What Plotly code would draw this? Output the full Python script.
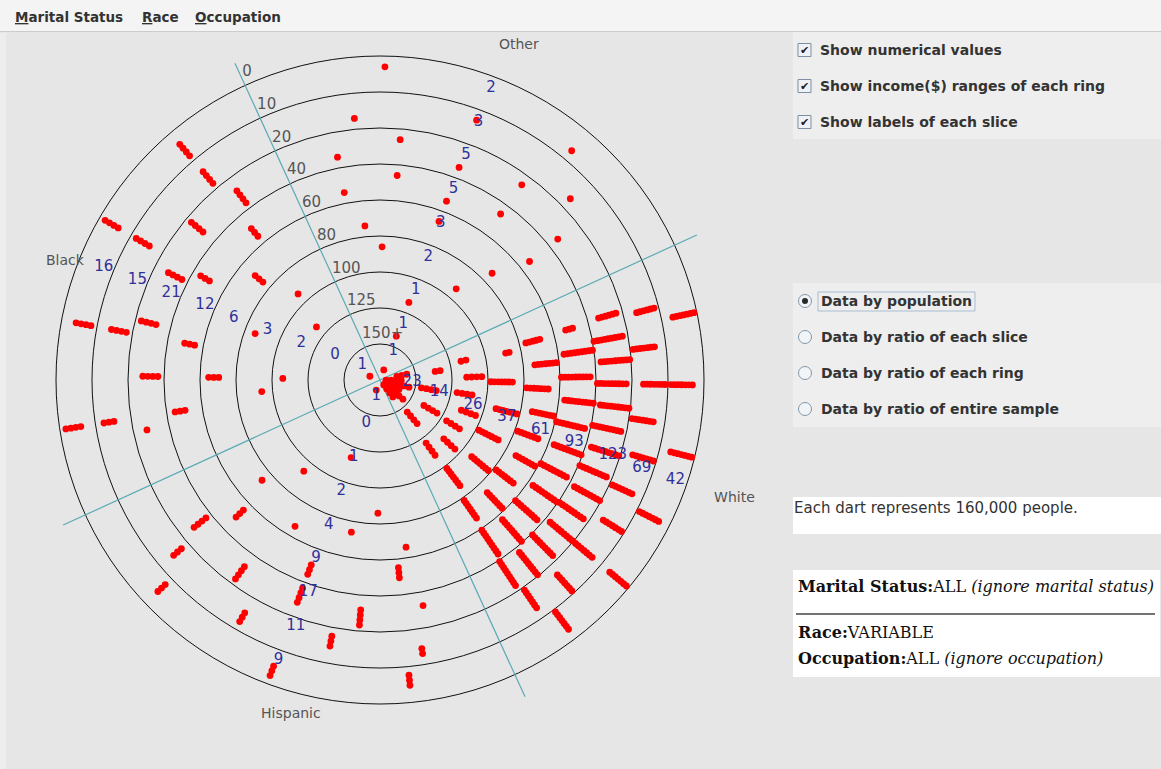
import math
import plotly.graph_objects as go

# ---------------- data ----------------
ring_labels = ["150+", "125", "100", "80", "60", "40", "20", "10", "0"]   # circle 1 (inner) -> circle 9 (outer)
slice_names = ["White", "Other", "Black", "Hispanic"]
white    = [23, 14, 26, 37, 61, 93, 123, 69, 42]   # centre (150+) -> outer ring (0-10)
other    = [1, 1, 1, 2, 3, 5, 5, 3, 2]
black    = [1, 0, 2, 3, 6, 12, 21, 15, 16]
hispanic = [1, 0, 1, 2, 4, 9, 17, 11, 9]
counts = [white, other, black, hispanic]
people_per_dart = 160000

# ---------------- geometry / style ----------------
W, H = 1161, 769
CX, CY = 380, 380
UNIT = 36.0
R_MAX = 10.5
ROT = 24.6          # angle of first slice boundary (deg, ccw from east)
N_RINGS = len(ring_labels)
RED = "#ff0000"
NUM_COL = "#30309a"
GREY = "#555555"
CYAN = "#5aaab4"
FONT = "DejaVu Sans"


def shift(r, th, dx, dy):
    """move a polar point by dx (right) / dy (down) pixels"""
    x = r * UNIT * math.cos(math.radians(th)) + dx
    y = r * UNIT * math.sin(math.radians(th)) - dy
    return math.hypot(x, y) / UNIT, math.degrees(math.atan2(y, x))


def cell_darts(n, k, a0, a1):
    rs, ts = [], []
    if n == 0:
        return rs, ts
    if n <= 5:
        s = 1
    elif n <= 12:
        s = 3
    elif n <= 30:
        s = 4
    elif n <= 70:
        s = 7
    else:
        s = 9
    ns = math.ceil(n / s)
    margin = 6.0
    left = n
    d = 0.10 if s >= 7 else 0.14
    for j in range(ns):
        m = min(s, left)
        left -= m
        th = a0 + margin + (j + 0.5) * (a1 - a0 - 2 * margin) / ns
        off = 0.2 if s == 1 else (0.12 if s < 9 else 0.06)
        rc = k + 0.5 + (off if j % 2 else -off)
        for i in range(m):
            rs.append(rc + (i - (m - 1) / 2) * d)
            ts.append(th)
    return rs, ts


fig = go.Figure()

# slice boundary lines
for b in range(2):
    th = ROT + 90 * b
    fig.add_trace(go.Scatterpolar(
        r=[9.68, 0, 9.68], theta=[th, th, th + 180], mode="lines",
        line=dict(color=CYAN, width=1.2), hoverinfo="skip", showlegend=False))

# darts
for si, name in enumerate(slice_names):
    a0 = ROT - 90 + 90 * si
    a1 = a0 + 90
    rr, tt = [], []
    for k, n in enumerate(counts[si]):
        r_, t_ = cell_darts(n, k, a0, a1)
        rr += r_
        tt += t_
    fig.add_trace(go.Scatterpolar(
        r=rr, theta=tt, mode="markers", name=name,
        marker=dict(color=RED, size=6.8, line=dict(width=0)),
        showlegend=False, hoverinfo="skip"))

# numerical values
for si, name in enumerate(slice_names):
    centre = ROT - 45 + 90 * si
    rr, tt, tx = [], [], []
    for k, n in enumerate(counts[si]):
        r0 = 0.67 if k == 0 else k + 1 - 19 / UNIT
        r_, t_ = shift(r0, centre, 0, -6)
        rr.append(r_)
        tt.append(t_)
        tx.append(str(n))
    fig.add_trace(go.Scatterpolar(
        r=rr, theta=tt, text=tx, mode="text", textposition="middle right",
        textfont=dict(color=NUM_COL, size=15, family=FONT),
        cliponaxis=False, showlegend=False, hoverinfo="skip"))

# income range labels along the boundary line
rr, tt = [], []
for j, lab in enumerate(ring_labels):
    r_, t_ = shift(j + 1, ROT + 90, -3, -13)
    rr.append(r_)
    tt.append(t_)
fig.add_trace(go.Scatterpolar(
    r=rr, theta=tt, text=ring_labels, mode="text", textposition="middle right",
    textfont=dict(color=GREY, size=15, family=FONT),
    cliponaxis=False, showlegend=False, hoverinfo="skip"))

# slice labels
fig.add_trace(go.Scatterpolar(
    r=[9.85] * 4, theta=[ROT - 45 + 90 * i + 0.8 for i in range(4)], text=slice_names,
    mode="text", textposition="middle right",
    textfont=dict(color=GREY, size=14, family=FONT),
    cliponaxis=False, showlegend=False, hoverinfo="skip"))

rad_px = R_MAX * UNIT
fig.update_layout(
    width=W, height=H,
    margin=dict(l=0, r=0, t=0, b=0),
    paper_bgcolor="#e6e6e6",
    showlegend=False,
    polar=dict(
        domain=dict(x=[(CX - rad_px) / W, (CX + rad_px) / W],
                    y=[1 - (CY + rad_px) / H, 1 - (CY - rad_px) / H]),
        bgcolor="rgba(0,0,0,0)",
        radialaxis=dict(range=[0, R_MAX], tickvals=list(range(1, N_RINGS + 1)),
                        showticklabels=False, ticks="", showline=False,
                        gridcolor="#111111", gridwidth=1.3, layer="below traces"),
        angularaxis=dict(direction="counterclockwise", rotation=0, showgrid=False,
                         showticklabels=False, ticks="", showline=False,
                         layer="below traces"),
    ),
)


# ---------------- UI panel (paper coords from px) ----------------
def px(x, y):
    return x / W, 1 - y / H


shapes = []
annots = []


def rect(x0, y0, x1, y1, fill, line=None, lw=0, layer="below"):
    a, b = px(x0, y0)
    c, d = px(x1, y1)
    shapes.append(dict(type="rect", xref="paper", yref="paper", x0=a, y0=d, x1=c, y1=b,
                       fillcolor=fill, line=dict(color=line or fill, width=lw), layer=layer))


def circ(xc, yc, r, fill, line, lw=1):
    a, b = px(xc - r, yc - r)
    c, d = px(xc + r, yc + r)
    shapes.append(dict(type="circle", xref="paper", yref="paper", x0=a, y0=d, x1=c, y1=b,
                       fillcolor=fill, line=dict(color=line, width=lw), layer="above"))


def hline(x0, x1, y, color, lw):
    a, b = px(x0, y)
    c, _ = px(x1, y)
    shapes.append(dict(type="line", xref="paper", yref="paper", x0=a, y0=b, x1=c, y1=b,
                       line=dict(color=color, width=lw)))


def text(x, y, s, size=14, color="#333333", family=FONT, xanchor="left"):
    a, b = px(x, y)
    annots.append(dict(x=a, y=b, xref="paper", yref="paper", text=s, showarrow=False,
                       xanchor=xanchor, yanchor="middle",
                       font=dict(size=size, color=color, family=family)))


# menu bar
rect(0, 0, W, 31, "#f4f4f4")
hline(0, W, 31.5, "#cccccc", 1)
rect(0, 33, 6, H, "#ededed")
text(13, 17, "<b><u>M</u>arital Status</b>", 13.5)
text(140, 17, "<b><u>R</u>ace</b>", 13.5)
text(193, 17, "<b><u>O</u>ccupation</b>", 13.5)

# check boxes
rect(793, 32, W, 139, "#eeeeee")
for y, lab in zip([50, 86, 122], ["Show numerical values",
                                 "Show income($) ranges of each ring",
                                 "Show labels of each slice"]):
    rect(798, y - 6.5, 811, y + 6.5, "#eef2f6", "#7d8fa3", 1, layer="above")
    text(804.5, y + 0.5, "✔", 11, "#222222", xanchor="center")
    text(818, y, "<b>" + lab + "</b>", 14)

# radio buttons
rect(793, 283, W, 427, "#eeeeee")
rect(818, 292, 975, 311, "rgba(0,0,0,0)", "#a9bdd2", 1, layer="above")
for i, (y, lab) in enumerate(zip([301, 337, 373, 409],
                                 ["Data by population", "Data by ratio of each slice",
                                  "Data by ratio of each ring",
                                  "Data by ratio of entire sample"])):
    circ(805, y, 6.5, "#f2f5f8", "#8196aa", 1)
    if i == 0:
        circ(805, y, 3, "#2a2a2a", "#2a2a2a", 0)
    text(819, y, "<b>" + lab + "</b>", 14)

# dart note
rect(793, 497, W, 534, "#ffffff")
text(792, 508, "Each dart represents {:,} people.".format(people_per_dart), 15, "#333333")

# info box
rect(793, 570, 1160, 677, "#ffffff")
SERIF = "DejaVu Serif"
text(796, 586, "<b>Marital Status:</b>ALL <i>(ignore marital status)</i>", 16, "#111111", SERIF)
hline(796, 1155, 614, "#444444", 1.5)
text(796, 632, "<b>Race:</b>VARIABLE", 16, "#111111", SERIF)
text(796, 658, "<b>Occupation:</b>ALL <i>(ignore occupation)</i>", 16, "#111111", SERIF)

fig.update_layout(shapes=shapes, annotations=annots)
fig.write_html("out.html", config={"displayModeBar": False},
               post_script="document.body.style.margin='0';document.body.style.overflow='hidden';")
